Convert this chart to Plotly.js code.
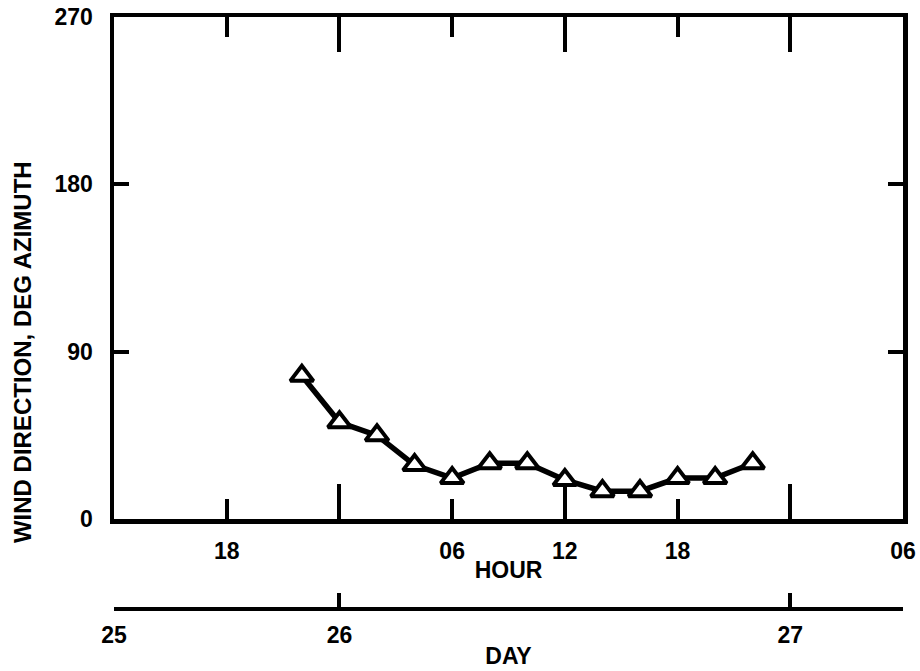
<!DOCTYPE html>
<html>
<head>
<meta charset="utf-8">
<script src="https://cdn.plot.ly/plotly-3.0.1.min.js"></script>
<style>html,body{margin:0;padding:0;background:#fff;}#chart{width:920px;height:671px;}</style>
</head>
<body>
<div id="chart"></div>
<script>
// Hours counted from 00 on day 25 (so 24 = 00 on day 26, 48 = 00 on day 27)
const hours = [22, 24, 26, 28, 30, 32, 34, 36, 38, 40, 42, 44, 46];
const direction = [77, 52, 45, 29, 22, 30, 30, 21, 15, 15, 22, 22, 30];

const hourTickVals = [18, 24, 30, 36, 42, 48, 54];
const hourTickText = ["18", "", "06", "12", "18", "", "06"];
const longTickVals = [24, 36, 48];
const dayTickVals = [12, 24, 48, 54];
const dayTickText = ["25", "26", "27", ""];
const yTickVals = [0, 90, 180, 270];
const yTickText = ["0", "90", "180", "270"];
const xRange = [12, 54];
const yRange = [0, 270];
const yTitle = "WIND DIRECTION, DEG AZIMUTH";

const FONT = {family: "'Liberation Sans', Arial, sans-serif", size: 23, color: "#000", weight: 700};
const TFONT = {family: "'Liberation Sans', Arial, sans-serif", size: 24, color: "#000", weight: 700};

const trace = {
  x: hours, y: direction, type: "scatter", mode: "lines+markers",
  line: {color: "#000", width: 5.5},
  marker: {symbol: "triangle-up", size: 20, color: "#fff", line: {color: "#000", width: 4}},
  cliponaxis: false, hoverinfo: "skip"
};
const dummy = {x: [], y: [], xaxis: "x3", yaxis: "y", type: "scatter", showlegend: false};
const dummy2 = {x: [], y: [], xaxis: "x2", yaxis: "y", type: "scatter", showlegend: false};

const layout = {
  width: 920, height: 671,
  margin: {l: 114, r: 17, t: 17, b: 62},
  paper_bgcolor: "#fff", plot_bgcolor: "#fff",
  showlegend: false,
  font: FONT,
  xaxis: {
    range: xRange, tickmode: "array", tickvals: hourTickVals, ticktext: hourTickText,
    ticks: "inside", ticklen: 20, tickwidth: 4, tickcolor: "#000",
    showline: true, linewidth: 4.5, linecolor: "#000", mirror: "ticks",
    showgrid: false, zeroline: false, anchor: "y",
    ticklabelstandoff: 8, tickfont: FONT,
    title: {text: "HOUR", font: FONT, standoff: 0}
  },
  xaxis3: {
    range: xRange, overlaying: "x", anchor: "y", tickmode: "array", tickvals: longTickVals,
    ticks: "inside", ticklen: 35, tickwidth: 4, tickcolor: "#000",
    showticklabels: false, showline: false, mirror: "ticks",
    showgrid: false, zeroline: false
  },
  xaxis2: {
    range: xRange, overlaying: "x", anchor: "free", position: 0, side: "bottom",
    tickmode: "array", tickvals: dayTickVals, ticktext: dayTickText,
    ticks: "inside", ticklen: 14, tickwidth: 4, tickcolor: "#000",
    showline: true, linewidth: 4, linecolor: "#000",
    showgrid: false, zeroline: false, tickfont: FONT, ticklabelstandoff: 4,
    title: {text: "DAY", font: FONT, standoff: 0}
  },
  yaxis: {
    range: yRange, domain: [0.152, 1], tickmode: "array", tickvals: yTickVals, ticktext: yTickText,
    ticks: "inside", ticklen: 15, tickwidth: 4, tickcolor: "#000",
    showline: true, linewidth: 4.5, linecolor: "#000", mirror: "ticks",
    showgrid: false, zeroline: false, tickfont: FONT, ticklabelstandoff: 12
  },
  annotations: [{
    text: yTitle, xref: "paper", yref: "paper", x: -0.1166, y: 0.434,
    xanchor: "center", yanchor: "middle", textangle: -90, showarrow: false, font: TFONT
  }]
};

Plotly.newPlot("chart", [trace, dummy, dummy2], layout, {staticPlot: true, displayModeBar: false});
</script>
</body>
</html>
